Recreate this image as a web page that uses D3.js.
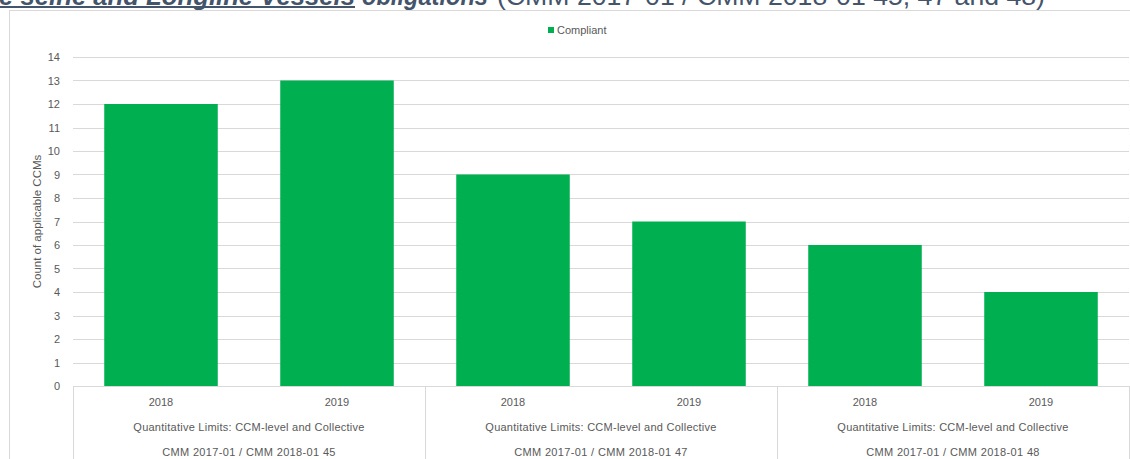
<!DOCTYPE html>
<html>
<head>
<meta charset="utf-8">
<script src="https://cdn.jsdelivr.net/npm/d3@7"></script>
<style>
  html, body { margin: 0; padding: 0; background: #fff; overflow: hidden; }
  svg { display: block; }
  text { font-family: "Liberation Sans", Arial, sans-serif; }
</style>
</head>
<body>
<svg id="chart" width="1130" height="459"></svg>
<script>
// Compliance counts per limit / year
const years = ["2018", "2019", "2018", "2019", "2018", "2019"];
const groups = [
  "CMM 2017-01 / CMM 2018-01 45",
  "CMM 2017-01 / CMM 2018-01 47",
  "CMM 2017-01 / CMM 2018-01 48"
];
const groupSubtitle = "Quantitative Limits: CCM-level and Collective";
const compliant = [12, 13, 9, 7, 6, 4];
const yTicks = d3.range(0, 15);
const seriesName = "Compliant";

const W = 1130, H = 459;
const plot = { left: 73, right: 1129, top: 57, bottom: 386 };
const green = "#00b050";
const grid = "#d9d9d9";
const textColor = "#595959";
const headColor = "#44546a";

const svg = d3.select("#chart");

// Heading line of the surrounding document (runs off the top edge)
const headY = 5;
svg.append("text")
  .attr("x", -58).attr("y", headY)
  .attr("textLength", 413).attr("lengthAdjust", "spacingAndGlyphs")
  .attr("font-size", 26).attr("font-weight", "bold").attr("font-style", "italic")
  .attr("fill", headColor)
  .text("Purse seine and Longline Vessels");
svg.append("line")
  .attr("x1", 0).attr("x2", 355)
  .attr("y1", headY + 2).attr("y2", headY + 2)
  .attr("stroke", headColor).attr("stroke-width", 2);
svg.append("text")
  .attr("x", 362).attr("y", headY)
  .attr("textLength", 126).attr("lengthAdjust", "spacingAndGlyphs")
  .attr("font-size", 26).attr("font-weight", "bold").attr("font-style", "italic")
  .attr("fill", headColor)
  .text("obligations");
svg.append("text")
  .attr("x", 497).attr("y", headY)
  .attr("textLength", 548).attr("lengthAdjust", "spacingAndGlyphs")
  .attr("font-size", 26)
  .attr("fill", headColor)
  .text("(CMM 2017-01 / CMM 2018-01 45, 47 and 48)");

// Chart frame
svg.append("rect")
  .attr("x", 9.5).attr("y", 10.5)
  .attr("width", 1140).attr("height", 480)
  .attr("fill", "#fff").attr("stroke", grid).attr("stroke-width", 1);

const x = d3.scaleBand()
  .domain(d3.range(compliant.length))
  .range([plot.left, plot.right])
  .paddingInner(0.355)
  .paddingOuter(0.1775);

const y = d3.scaleLinear()
  .domain([0, 14])
  .range([plot.bottom, plot.top]);

// Gridlines
svg.append("g").selectAll("line")
  .data(yTicks)
  .join("line")
  .attr("x1", plot.left).attr("x2", plot.right)
  .attr("y1", d => Math.round(y(d)) + 0.5)
  .attr("y2", d => Math.round(y(d)) + 0.5)
  .attr("stroke", grid).attr("stroke-width", 1);

// Y axis tick labels
const yAxis = d3.axisLeft(y).tickValues(yTicks).tickSize(0).tickPadding(0);
const yg = svg.append("g")
  .attr("transform", `translate(${plot.left - 13},0)`)
  .call(yAxis);
yg.select(".domain").remove();
yg.selectAll("text")
  .attr("font-family", "'Liberation Sans', Arial, sans-serif")
  .attr("font-size", 11)
  .attr("fill", textColor);

// Y axis title
svg.append("text")
  .attr("transform", `translate(41,${(plot.top + plot.bottom) / 2}) rotate(-90)`)
  .attr("text-anchor", "middle")
  .attr("font-size", 11.5)
  .attr("fill", textColor)
  .text("Count of applicable CCMs");

// Bars
svg.append("g").selectAll("rect")
  .data(compliant)
  .join("rect")
  .attr("x", (d, i) => x(i))
  .attr("width", x.bandwidth())
  .attr("y", d => y(d))
  .attr("height", d => y(0) - y(d))
  .attr("fill", green);

// Multi-level category axis
const step = x.step();
const groupSize = years.length / groups.length;
const cat = svg.append("g");
cat.append("line")
  .attr("x1", plot.left).attr("x2", plot.right)
  .attr("y1", plot.bottom + 0.5).attr("y2", plot.bottom + 0.5)
  .attr("stroke", grid);
d3.range(groups.length + 1).forEach(g => {
  const gx = Math.round(plot.left + g * groupSize * step) + 0.5;
  cat.append("line")
    .attr("x1", gx).attr("x2", gx)
    .attr("y1", plot.bottom).attr("y2", H)
    .attr("stroke", grid);
});
cat.selectAll("text.year")
  .data(years)
  .join("text")
  .attr("class", "year")
  .attr("x", (d, i) => x(i) + x.bandwidth() / 2)
  .attr("y", 406)
  .attr("text-anchor", "middle")
  .attr("font-size", 11)
  .attr("fill", textColor)
  .text(d => d);
groups.forEach((g, gi) => {
  const cx = plot.left + (gi + 0.5) * groupSize * step;
  cat.append("text")
    .attr("x", cx).attr("y", 431)
    .attr("text-anchor", "middle")
    .attr("font-size", 11)
    .attr("letter-spacing", 0.25)
    .attr("fill", textColor)
    .text(groupSubtitle);
  cat.append("text")
    .attr("x", cx).attr("y", 456)
    .attr("text-anchor", "middle")
    .attr("font-size", 11)
    .attr("letter-spacing", 0.35)
    .attr("fill", textColor)
    .text(g);
});

// Legend
const legend = svg.append("g").attr("transform", "translate(548,27)");
legend.append("rect").attr("width", 6).attr("height", 6).attr("fill", green);
legend.append("text")
  .attr("x", 9).attr("y", 6.5)
  .attr("font-size", 11)
  .attr("fill", textColor)
  .text(seriesName);
</script>
</body>
</html>
